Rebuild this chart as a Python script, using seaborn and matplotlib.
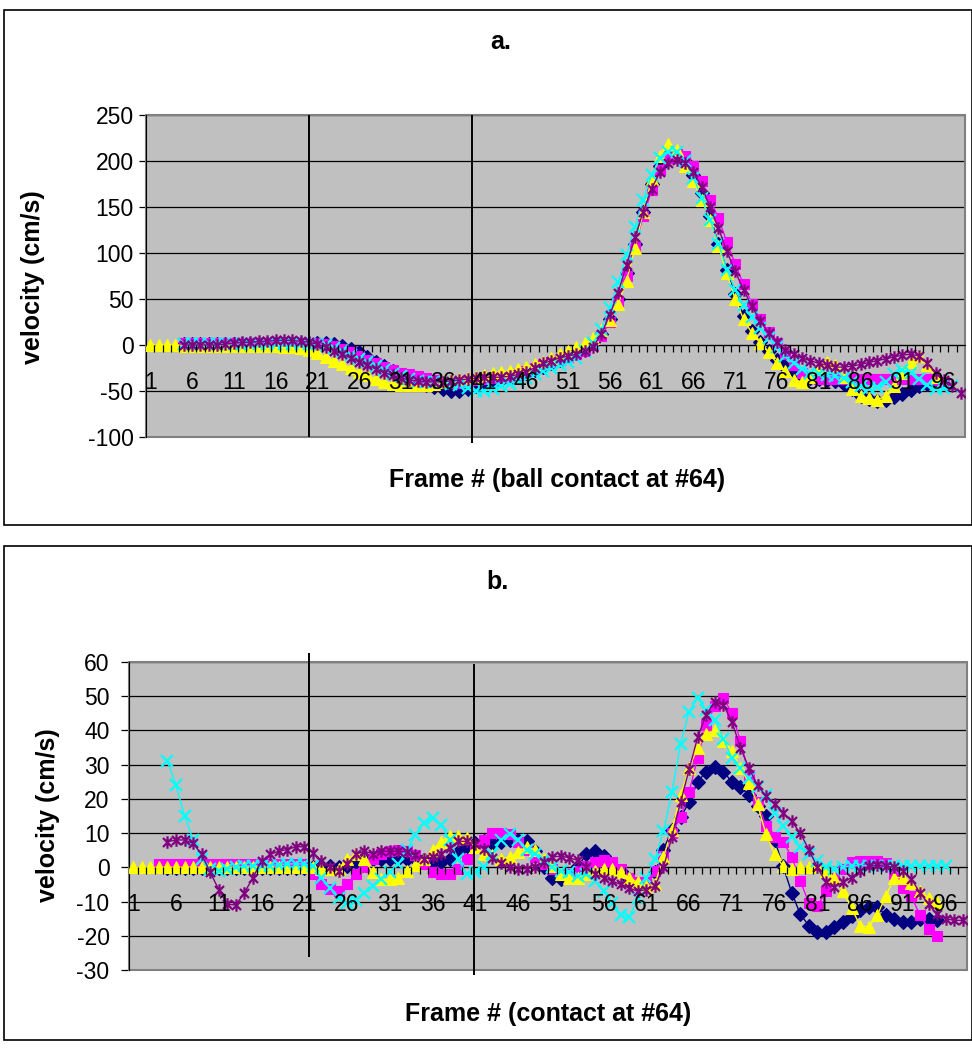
import numpy as np
import pandas as pd
import matplotlib
matplotlib.use("Agg")
import matplotlib.pyplot as plt
import seaborn as sns
from matplotlib.path import Path
from matplotlib.patches import Rectangle

nan = np.nan
frames = list(range(1, 99))
label_frames = list(range(1, 97, 5))

# ---- panel a: velocity (cm/s) ----
a_navy = [nan] * 4 + [1] * 16 + [
    2, 2, 1, -1, -4, -8, -13, -18, -23, -28,
    -33, -37, -40, -43, -46, -48, -50, -50, -48, -45,
    -42, -40, -38, -36, -33, -30, -27, -24, -20, -16,
    -12, -8, -3, 3, 12, 28, 50, 78, 110, 145,
    175, 195, 207, 208, 200, 185, 165, 140, 110, 82,
    55, 32, 15, 3, -7, -16, -24, -30, -34, -36,
    -37, -38, -39, -42, -48, -55, -59, -61, -60, -57,
    -53, -49, -45, -42, -40] + [nan] * 3
a_magenta = [nan] * 4 + [2] * 16 + [
    2, 1, -1, -4, -8, -12, -16, -20, -24, -27,
    -30, -32, -34, -36, -38, -40, -41, -41, -40, -38,
    -37, -36, -35, -34, -32, -28, -25, -22, -19, -16,
    -13, -10, -6, 0, 10, 25, 48, 75, 108, 140,
    168, 190, 203, 208, 205, 195, 178, 158, 138, 112,
    88, 66, 45, 28, 14, 2, -10, -22, -30, -35,
    -37, -37, -37, -37, -37, -37, -37, -37, -37, -37,
    -37, -37, -37, -37, -38, -40] + [nan] * 2
a_yellow = [
    0, 0, 0, 0, -1, -1, -1, -1, -1, -1,
    -1, -1, -1, -1, -1, -1, -2, -2, -3, -5,
    -9, -13, -17, -21, -25, -29, -33, -37, -40, -42,
    -43, -44, -44, -43, -42, -40, -38, -37, -36, -35,
    -33, -30, -29, -28, -26, -24, -21, -18, -14, -10,
    -6, -2, 2, 8, 16, 27, 45, 70, 105, 145,
    180, 205, 218, 212, 195, 178, 158, 136, 108, 78,
    50, 28, 13, 2, -8, -20, -28, -38, -40, -35,
    -25, -18, -22, -35, -48, -55, -58, -60, -55, -45,
    -30, -18, -12, -22, -35] + [nan] * 3
a_cyan = [nan] * 4 + [1] * 16 + [
    1, 0, -3, -7, -11, -15, -19, -23, -27, -31,
    -34, -37, -39, -40, -40, -41, -42, -44, -47, -50,
    -50, -48, -45, -42, -39, -36, -32, -28, -25, -22,
    -19, -14, -7, 2, 17, 40, 68, 98, 128, 158,
    185, 203, 210, 210, 200, 182, 160, 136, 110, 82,
    60, 43, 30, 18, 8, -2, -12, -20, -26, -30,
    -32, -33, -34, -36, -40, -45, -47, -46, -40, -32,
    -27, -30, -37, -44, -48, -47, -45] + [nan]
a_purple = [nan] * 4 + [
    0, 0, 0, 0, 0, 1,
    2, 3, 3, 4, 4, 5, 5, 5, 4, 3,
    1, -2, -6, -10, -14, -18, -22, -26, -30, -33,
    -36, -38, -39, -40, -40, -40, -39, -38, -37, -36,
    -35, -35, -35, -34, -32, -29, -25, -20, -17, -14,
    -12, -10, -7, -2, 12, 33, 57, 87, 117, 145,
    170, 188, 198, 201, 198, 188, 172, 150, 127, 102,
    80, 60, 42, 26, 13, 3, -5, -10, -14, -17,
    -20, -22, -24, -24, -23, -21, -19, -17, -15, -13,
    -11, -10, -12, -20, -30, -38, -45, -52]

# ---- panel b: velocity (cm/s) ----
b_navy = [nan] * 4 + [-0.3] * 17 + [
    0, 0.5, 0.3, 0, 0.5, 1.5, 2, 2.3, 2.5,
    2.5, 2.5, 2.5, 2.3, 2, 1.5, 1.5, 2.3, 4.5, 6.3,
    7, 7.6, 7, 7.5, 8, 8, 7.6, 4.7, 0, -3,
    -3.5, -2.5, 0.3, 3.8, 4.7, 3.3, 0, -1, -3.5, -5,
    -5, -1.5, 5.2, 11, 14.6, 19, 25, 28, 29.3, 28,
    25, 23.6, 21, 17.8, 15, 8, 0.3, -7.4, -13.7, -17,
    -19, -19, -17.5, -16, -14.3, -12.5, -11.5, -11.5, -14, -15,
    -16, -16, -15, -15, -15.5] + [nan] * 3
b_magenta = [nan] * 3 + [1] * 18 + [
    -2, -5, -6.4, -7, -5, -2, 0, 2.3, 3.8,
    4.7, 5, 4.7, 3.5, 1, -1.5, -2, -2, -0.5, 2.3,
    5.8, 8, 10, 10, 9.6, 7.3, 5, 3, 1, -0.6,
    -2, -2, -1, 0.3, 1.5, 2, 1.5, -0.6, -3, -4.4,
    -4.4, -1.2, 3.3, 10, 14.6, 22, 32, 41.7, 47, 49.6,
    45, 37, 27, 19, 12, 9, 7.5, 3, -4, -10.3,
    -11.4, -7, -3, -0.5, 1.5, 1.8, 1.8, 1.8, 1.3, -2,
    -6, -8.5, -14, -18, -20] + [nan] * 3
b_yellow = [0] * 21 + [
    0, -0.5, -0.6, -0.6, 2.3, 3.8, 2.3, -1.5, -3.5,
    -3.5, -3, -1, 0.6, 2.3, 5, 7.5, 9.3, 9.3, 8.5,
    6, 4, 3.5, 2.5, 3, 4.5, 6, 5, 2.5, 0.3,
    -2, -3, -3, -2, -1, -0.6, -0.6, -1.5, -3, -4.4,
    -5.5, -5, 3, 11, 21, 29, 35, 39, 40, 37,
    34, 29, 24.7, 18.4, 9.6, 3.8, 0.3, -0.6, 0, 0,
    0.5, -1, -3, -7, -12, -17, -17.5, -14, -8.5, -3,
    -3, -4.5, -7, -9, -10] + [nan] * 3
b_cyan = [nan] * 4 + [
    31, 24, 15, 8, 2.3, -0.6,
    -1, -0.5, 0, 0.3, 0.5, 0.5, 0.5, 0.8, 1, 1,
    1, 0.5, -3, -6, -9, -10.5, -9.5, -7.5, -5.5, -3.5,
    -1.5, 1, 5, 9.5, 13, 14.5, 12.5, 8, 2.3, -2,
    -1.5, 0, 4, 8, 9.6, 8, 5, 4, 2, 0,
    -1, -1.5, -2.4, -2, -4, -7, -10.5, -14, -14.6, -9,
    -3, 2.3, 10.5, 22, 36, 45.5, 49.5, 46, 43, 37.5,
    32, 29, 26, 23.6, 21, 16, 12, 9, 6, 3.8,
    1.8, 0, -0.5, 0, 0.5, 0.5, 0.5, 0.5, 0.5, 0.5,
    0.5, 0.5, 0.5, 0.5, 0.5, 0.5] + [nan] * 2
b_purple = [nan] * 4 + [
    7.5, 8, 8, 7, 3.8, -1.5,
    -6.5, -10.8, -11, -7.4, -3, 1.8, 3.8, 4.7, 5.2, 6,
    6, 4.3, 1.8, 0, -1, 1, 3.8, 4.7, 4, 4.7,
    4.7, 4.7, 4.5, 3.5, 2.5, 3, 3.8, 5.7, 7.6, 7.6,
    6.7, 5.5, 2.8, 1.3, 0, -0.4, -0.4, 0, 1.5, 3,
    3.3, 2.8, 2, 0, -2, -3, -4, -5, -6, -7,
    -6.5, -5.5, 0, 9, 19, 28.6, 38, 44.6, 48.4, 47.5,
    42.6, 35, 29, 24, 20.7, 18.4, 16, 13.4, 10, 5.2,
    0, -4.4, -5.7, -4.4, -3, -1, 0.3, 0.6, 0.3, 0,
    -1, -3.5, -7.4, -10.8, -13.7, -15, -15.5, -15.5]

# hand-drawn vertical marker lines (frame position, y bottom, y top)
lines_a = [(20.0, -100, 250), (39.5, -107, 250)]
lines_b = [(21.6, -26.3, 62.5), (40.8, -31.5, 59.3)]

star = Path([(0, -1), (0, 1), (-0.72, -0.72), (0.72, 0.72), (-0.72, 0.72), (0.72, -0.72)],
            [Path.MOVETO, Path.LINETO, Path.MOVETO, Path.LINETO, Path.MOVETO, Path.LINETO])

styles = [
    ("#000080", "D", 7.0, 0.8),
    ("#FF00FF", "s", 6.5, 0.8),
    ("#FFFF00", "^", 9.0, 0.8),
    ("#00FFFF", "x", 8.0, 1.6),
    ("#800080", star, 9.0, 1.6),
]

plt.rcParams["font.family"] = ["Liberation Sans", "DejaVu Sans"]
plt.rcParams["axes.unicode_minus"] = False

fig = plt.figure(figsize=(9.72, 10.52), dpi=100)
W, H = 972, 1052


def fx(px):
    return px / W


def fy(py):
    return 1 - py / H


def draw_panel(ax, series, ylo, yhi, ystep, ytick_len, ytick_pad, vlines):
    ax.set_facecolor("#C0C0C0")
    for vals, (col, mk, ms, mew) in zip(series, styles):
        df = pd.DataFrame({"frame": frames, "v": vals}).dropna()
        sns.lineplot(data=df, x="frame", y="v", ax=ax, color=col, lw=1.0,
                     marker=mk, markersize=ms, markeredgecolor=col,
                     markerfacecolor=col, markeredgewidth=mew,
                     estimator=None, sort=False, zorder=3)
    ax.set_xlim(0.5, 98.5)
    ax.set_ylim(ylo, yhi)
    ax.set_yticks(np.arange(ylo, yhi + 1, ystep))
    ax.yaxis.grid(True, color="black", lw=0.9)
    ax.set_axisbelow(True)
    ax.xaxis.set_zorder(5)
    ax.set_xlabel("")
    ax.set_ylabel("")
    for s in ["top", "right"]:
        ax.spines[s].set_visible(False)
    ax.spines["bottom"].set_position(("data", 0))
    ax.spines["bottom"].set_color("black")
    ax.spines["left"].set_color("black")
    ax.spines["bottom"].set_zorder(2.5)
    ax.add_patch(Rectangle((0, 0), 1, 1, transform=ax.transAxes, fill=False,
                           ec="#808080", lw=1.5, clip_on=False, zorder=1))
    ax.set_xticks(label_frames)
    ax.set_xticklabels([str(f) for f in label_frames])
    ax.set_xticks(np.arange(1.5, 98.5, 1), minor=True)
    ax.tick_params(axis="x", which="major", length=0, pad=18.5, labelsize=16.5)
    ax.tick_params(axis="x", which="minor", length=5, width=0.9, direction="out")
    ax.tick_params(axis="y", length=ytick_len, width=0.9, pad=ytick_pad, labelsize=16.5)
    for x, y0, y1 in vlines:
        lc = ax.vlines(x, y0, y1, colors="black", lw=1.4, zorder=4)
        lc.set_clip_on(False)


ax_a = fig.add_axes([fx(146), fy(437), fx(965 - 146), (437 - 115) / H])
draw_panel(ax_a, [a_navy, a_magenta, a_yellow, a_cyan, a_purple],
           -100, 250, 50, 5, 4, lines_a)

ax_b = fig.add_axes([fx(129), fy(970), fx(967 - 129), (970 - 662) / H])
draw_panel(ax_b, [b_navy, b_magenta, b_yellow, b_cyan, b_purple],
           -30, 60, 10, 6, 8, lines_b)

# panel frames
fig.add_artist(Rectangle((fx(4), fy(525)), fx(972 - 4), (525 - 10) / H,
                         transform=fig.transFigure, fill=False, ec="black", lw=1.2))
fig.add_artist(Rectangle((fx(4), fy(1040)), fx(972 - 4), (1040 - 546) / H,
                         transform=fig.transFigure, fill=False, ec="black", lw=1.2))

bold = dict(fontsize=18, fontweight="bold", ha="center", va="center")
fig.text(fx(501), fy(42), "a.", **bold)
fig.text(fx(557), fy(480), "Frame # (ball contact at #64)", **bold)
fig.text(fx(33), fy(277), "velocity (cm/s)", rotation=90, **bold)
fig.text(fx(497), fy(582), "b.", **bold)
fig.text(fx(548), fy(1014), "Frame # (contact at #64)", **bold)
fig.text(fx(48), fy(815), "velocity (cm/s)", rotation=90, **bold)

fig.savefig("out.png", dpi=100)
